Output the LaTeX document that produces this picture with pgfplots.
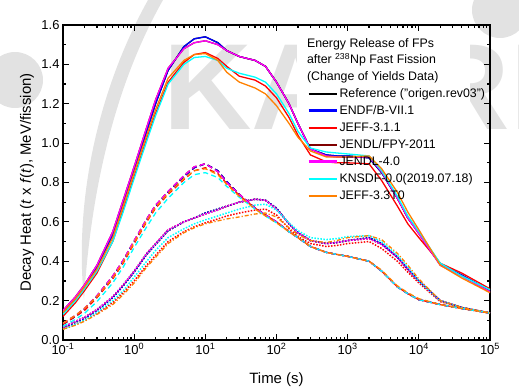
\documentclass[border=0pt]{standalone}
\usepackage{fontspec}
\setmainfont{Liberation Sans}
\usepackage{pgfplots}
\usepackage{pgfplotstable}
\pgfplotsset{compat=1.18}
\definecolor{cblue}{RGB}{0,0,255}
\definecolor{cred}{RGB}{255,0,0}
\definecolor{cdred}{RGB}{128,0,0}
\definecolor{cmag}{RGB}{255,0,255}
\definecolor{ccyan}{RGB}{0,255,255}
\definecolor{corange}{RGB}{255,128,0}
\definecolor{wm}{RGB}{226,226,226}

\pgfplotstableread{
t tot beta gam
0.1 0.14 0.08 0.06
0.15 0.21 0.12 0.09
0.2 0.27 0.155 0.11
0.3 0.37 0.22 0.15
0.5 0.53 0.32 0.215
0.7 0.69 0.40 0.275
1 0.86 0.50 0.345
1.5 1.06 0.61 0.435
2 1.20 0.68 0.485
3 1.37 0.75 0.555
5 1.49 0.83 0.60
7 1.53 0.875 0.62
10 1.54 0.895 0.645
15 1.51 0.86 0.665
20 1.47 0.805 0.68
30 1.44 0.74 0.70
50 1.42 0.67 0.715
70 1.39 0.635 0.71
100 1.31 0.60 0.67
150 1.20 0.55 0.59
200 1.10 0.52 0.545
300 0.97 0.475 0.505
500 0.94 0.445 0.49
700 0.935 0.435 0.495
1000 0.935 0.425 0.505
2000 0.925 0.40 0.52
3000 0.85 0.35 0.49
5000 0.72 0.27 0.42
7000 0.62 0.235 0.36
10000 0.545 0.205 0.30
20000 0.385 0.18 0.20
40000 0.33 0.16 0.165
100000 0.25 0.137 0.137
}\endf

\pgfplotstableread{
t tot beta gam
0.1 0.15 0.085 0.065
0.15 0.22 0.125 0.095
0.2 0.28 0.16 0.115
0.3 0.38 0.225 0.155
0.5 0.55 0.325 0.22
0.7 0.71 0.405 0.28
1 0.88 0.505 0.35
1.5 1.08 0.615 0.44
2 1.22 0.685 0.49
3 1.38 0.755 0.56
5 1.48 0.835 0.60
7 1.51 0.88 0.62
10 1.52 0.895 0.64
15 1.50 0.855 0.66
20 1.47 0.80 0.68
30 1.44 0.74 0.70
50 1.42 0.67 0.715
70 1.39 0.635 0.71
100 1.31 0.60 0.665
150 1.20 0.55 0.59
200 1.10 0.52 0.545
300 0.97 0.475 0.505
500 0.935 0.445 0.49
700 0.93 0.435 0.495
1000 0.93 0.425 0.505
2000 0.93 0.40 0.515
3000 0.855 0.35 0.485
5000 0.72 0.27 0.42
7000 0.62 0.235 0.36
10000 0.54 0.205 0.30
20000 0.38 0.18 0.20
40000 0.325 0.16 0.165
100000 0.245 0.137 0.137
}\jendl

\pgfplotstableread{
t tot beta gam
0.1 0.12 0.08 0.055
0.15 0.19 0.12 0.08
0.2 0.25 0.15 0.10
0.3 0.34 0.215 0.135
0.5 0.50 0.31 0.19
0.7 0.66 0.39 0.24
1 0.83 0.49 0.30
1.5 1.02 0.60 0.38
2 1.15 0.67 0.43
3 1.31 0.74 0.50
5 1.41 0.815 0.55
7 1.45 0.86 0.575
10 1.46 0.875 0.595
15 1.43 0.845 0.615
20 1.39 0.795 0.63
30 1.34 0.735 0.645
50 1.32 0.67 0.66
70 1.29 0.635 0.665
100 1.23 0.60 0.635
150 1.13 0.55 0.565
200 1.04 0.52 0.525
300 0.94 0.475 0.49
500 0.905 0.445 0.475
700 0.90 0.435 0.48
1000 0.90 0.425 0.49
2000 0.895 0.40 0.50
3000 0.81 0.35 0.465
5000 0.68 0.27 0.40
7000 0.59 0.235 0.345
10000 0.52 0.205 0.29
20000 0.39 0.18 0.195
40000 0.34 0.16 0.165
100000 0.26 0.137 0.137
}\jeffa

\pgfplotstableread{
t tot beta gam
0.1 0.14 0.085 0.055
0.15 0.21 0.125 0.075
0.2 0.27 0.16 0.095
0.3 0.36 0.22 0.13
0.5 0.52 0.315 0.18
0.7 0.68 0.395 0.23
1 0.85 0.495 0.29
1.5 1.04 0.605 0.37
2 1.17 0.675 0.42
3 1.33 0.745 0.49
5 1.42 0.82 0.545
7 1.45 0.86 0.57
10 1.455 0.87 0.59
15 1.42 0.84 0.605
20 1.36 0.79 0.615
30 1.31 0.73 0.625
50 1.28 0.665 0.64
70 1.25 0.63 0.645
100 1.19 0.595 0.625
150 1.10 0.55 0.57
200 1.03 0.52 0.535
300 0.96 0.475 0.505
500 0.93 0.445 0.495
700 0.93 0.435 0.505
1000 0.93 0.425 0.52
2000 0.935 0.40 0.53
3000 0.87 0.355 0.51
5000 0.75 0.275 0.44
7000 0.65 0.24 0.38
10000 0.56 0.21 0.31
20000 0.38 0.18 0.20
40000 0.315 0.16 0.165
100000 0.24 0.137 0.137
}\jeffb

\pgfplotstableread{
t tot beta gam
0.1 0.13 0.07 0.055
0.15 0.20 0.105 0.08
0.2 0.26 0.135 0.10
0.3 0.35 0.195 0.14
0.5 0.50 0.29 0.20
0.7 0.65 0.37 0.25
1 0.82 0.47 0.32
1.5 1.01 0.575 0.40
2 1.14 0.645 0.455
3 1.30 0.72 0.52
5 1.40 0.80 0.565
7 1.435 0.84 0.59
10 1.44 0.85 0.61
15 1.42 0.825 0.63
20 1.38 0.78 0.645
30 1.355 0.725 0.665
50 1.335 0.665 0.685
70 1.31 0.63 0.69
100 1.25 0.595 0.66
150 1.15 0.55 0.595
200 1.06 0.52 0.555
300 0.975 0.475 0.52
500 0.955 0.445 0.51
700 0.95 0.435 0.515
1000 0.945 0.425 0.525
2000 0.935 0.40 0.53
3000 0.86 0.35 0.50
5000 0.73 0.27 0.43
7000 0.63 0.235 0.37
10000 0.55 0.205 0.30
20000 0.39 0.18 0.20
40000 0.325 0.16 0.165
100000 0.255 0.137 0.137
}\knsdf

\begin{document}
\begin{tikzpicture}
% watermark (pixel coordinates of the reference)
\begin{scope}[x=1bp,y=-1bp,shift={(-63bp,340bp)}]
  \node[anchor=base west,inner sep=0,text=wm,font=\fontsize{123}{123}\selectfont\bfseries] at (163,130) {KAERI};
  \fill[wm] (84,300) .. controls (74,200) and (98,90) .. (148,0) -- (163,0) .. controls (112,90) and (90,200) .. (84,300) -- cycle;
  \fill[wm] (15,80) circle (28);
  \fill[wm] (500,10) circle (28);
  \fill[white] (297,33) rectangle (470,192);
\end{scope}
\begin{axis}[
  scale only axis, width=427bp, height=315bp,
  xmode=log, xmin=0.1, xmax=1e5, ymin=0, ymax=1.6,
  axis line style={line width=1.8bp},
  every tick/.style={black, line width=1.2bp},
  major tick length=6bp, minor tick length=3.5bp,
  tick align=inside,
  xtick={0.1,1,10,100,1000,10000,100000},
  xticklabels={10\textsuperscript{-1},10\textsuperscript{0},10\textsuperscript{1},10\textsuperscript{2},10\textsuperscript{3},10\textsuperscript{4},10\textsuperscript{5}},
  ytick={0,0.2,0.4,0.6,0.8,1.0,1.2,1.4,1.6},
  yticklabels={0.0,0.2,0.4,0.6,0.8,1.0,1.2,1.4,1.6},
  minor y tick num=1,
  tick label style={font=\fontsize{13}{13}\selectfont},
  xlabel={Time (s)},
  ylabel={Decay Heat (\textit{t} x \textit{f}(\textit{t}), MeV/fission)},
  every axis x label/.style={at={(axis description cs:0.5,-0.127)},anchor=center,font=\fontsize{15}{15}\selectfont},
  every axis y label/.style={at={(axis description cs:-0.0843,0.5)},anchor=center,rotate=90,font=\fontsize{15}{15}\selectfont},
  legend image code/.code={\draw[#1] (0bp,0bp) -- (28bp,0bp);},
  legend cell align=left,
  legend style={at={(0.571,0.805)}, anchor=north west, draw=none, fill=none,
    inner sep=0pt, font=\fontsize{12.4}{12.4}\selectfont, row sep=2.5bp,
    nodes={inner sep=1.5bp, text height=9bp, text depth=2.5bp}},
]
% Reference (hidden under ENDF)
\addplot[black, line width=1.3bp, forget plot] table[x=t,y=tot]{\endf};
\addplot[black, line width=1.3bp, dash pattern=on 5bp off 3.5bp, forget plot] table[x=t,y=beta]{\endf};
\addplot[black, line width=1.5bp, dash pattern=on 1.5bp off 1.5bp, forget plot] table[x=t,y=gam]{\endf};
% ENDF/B-VII.1
\addplot[cblue, line width=1.3bp, forget plot] table[x=t,y=tot]{\endf};
\addplot[cblue, line width=1.3bp, dash pattern=on 5bp off 3.5bp, forget plot] table[x=t,y=beta]{\endf};
\addplot[cblue, line width=1.5bp, dash pattern=on 1.5bp off 1.5bp, forget plot] table[x=t,y=gam]{\endf};
% JEFF-3.1.1
\addplot[cred, line width=1.3bp, forget plot] table[x=t,y=tot]{\jeffa};
\addplot[cred, line width=1.3bp, dash pattern=on 5bp off 3.5bp, forget plot] table[x=t,y=beta]{\jeffa};
\addplot[cred, line width=1.5bp, dash pattern=on 1.5bp off 1.5bp, forget plot] table[x=t,y=gam]{\jeffa};
% JENDL/FPY-2011 (hidden under JENDL-4.0)
\addplot[cdred, line width=1.3bp, forget plot] table[x=t,y=tot]{\jendl};
\addplot[cdred, line width=1.3bp, dash pattern=on 5bp off 3.5bp, forget plot] table[x=t,y=beta]{\jendl};
\addplot[cdred, line width=1.5bp, dash pattern=on 1.5bp off 1.5bp, forget plot] table[x=t,y=gam]{\jendl};
% JENDL-4.0
\addplot[cmag, line width=1.3bp, forget plot] table[x=t,y=tot]{\jendl};
\addplot[cmag, line width=1.3bp, dash pattern=on 5bp off 3.5bp, forget plot] table[x=t,y=beta]{\jendl};
\addplot[cmag, line width=1.5bp, dash pattern=on 1.5bp off 1.5bp, forget plot] table[x=t,y=gam]{\jendl};
% KNSDF
\addplot[ccyan, line width=1.3bp, forget plot] table[x=t,y=tot]{\knsdf};
\addplot[ccyan, line width=1.3bp, dash pattern=on 5bp off 3.5bp, forget plot] table[x=t,y=beta]{\knsdf};
\addplot[ccyan, line width=1.5bp, dash pattern=on 1.5bp off 1.5bp, forget plot] table[x=t,y=gam]{\knsdf};
% JEFF-3.3T0
\addplot[corange, line width=1.3bp, forget plot] table[x=t,y=tot]{\jeffb};
\addplot[corange, line width=1.3bp, dash pattern=on 5bp off 3.5bp, forget plot] table[x=t,y=beta]{\jeffb};
\addplot[corange, line width=1.3bp, dash pattern=on 4bp off 2bp on 1.2bp off 2bp, forget plot] table[x=t,y=gam]{\jeffb};

\addlegendimage{black, line width=2bp}
\addlegendentry{Reference ("origen.rev03")}
\addlegendimage{cblue, line width=3bp}
\addlegendentry{ENDF/B-VII.1}
\addlegendimage{cred, line width=2bp}
\addlegendentry{JEFF-3.1.1}
\addlegendimage{cdred, line width=2bp}
\addlegendentry{JENDL/FPY-2011}
\addlegendimage{cmag, line width=3bp}
\addlegendentry{JENDL-4.0}
\addlegendimage{ccyan, line width=2bp}
\addlegendentry{KNSDF-0.0(2019.07.18)}
\addlegendimage{corange, line width=2bp}
\addlegendentry{JEFF-3.3T0}

\node[anchor=north west, align=left, inner sep=0pt, font=\fontsize{12.4}{16.5}\selectfont]
  at (rel axis cs:0.571,0.958) {Energy Release of FPs\\after \textsuperscript{238}Np Fast Fission\\(Change of Yields Data)};
\end{axis}
\pgfresetboundingbox
\path[use as bounding box] (-63bp,-52bp) rectangle (456bp,340bp);
\end{tikzpicture}
\end{document}
